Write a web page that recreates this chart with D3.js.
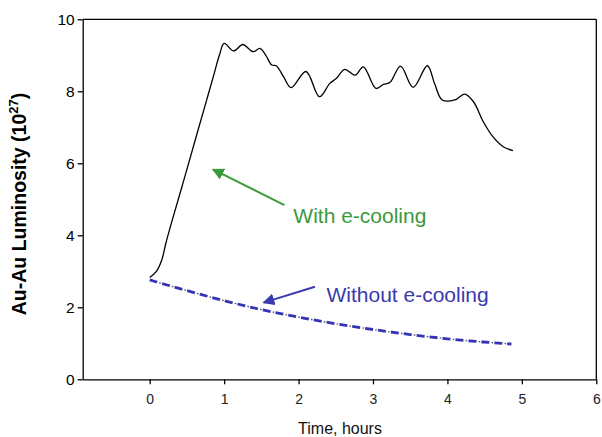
<!DOCTYPE html>
<html>
<head>
<meta charset="utf-8">
<script src="https://cdn.jsdelivr.net/npm/d3@7"></script>
<style>
  body { margin: 0; background: #fff; }
  svg { font-family: Arial, "Liberation Sans", sans-serif; }
  .axis path, .axis line { stroke: #000; stroke-width: 1.3; }
</style>
</head>
<body>
<div id="chart"></div>
<script>
const width = 602, height = 437;
const margin = { top: 19.3, right: 5.7, bottom: 57.7, left: 82.7 };
const innerWidth = width - margin.left - margin.right;
const innerHeight = height - margin.top - margin.bottom;

// with e-cooling (black line)
const withTime = [0, 0.09, 0.16, 0.22, 0.3, 0.45, 0.63, 0.76, 0.87, 0.94, 1.0, 1.13, 1.25, 1.39, 1.48, 1.56, 1.64, 1.70, 1.80, 1.90, 2.10, 2.28, 2.42, 2.51, 2.62, 2.76, 2.87, 3.04, 3.14, 3.23, 3.37, 3.54, 3.73, 3.83, 3.93, 4.10, 4.23, 4.35, 4.48, 4.61, 4.75, 4.88];
const withLum  = [2.83, 3.0, 3.3, 3.8, 4.4, 5.47, 6.78, 7.72, 8.52, 9.03, 9.33, 9.12, 9.30, 9.10, 9.19, 9.0, 8.73, 8.71, 8.4, 8.10, 8.55, 7.85, 8.22, 8.36, 8.61, 8.45, 8.68, 8.08, 8.19, 8.25, 8.70, 8.11, 8.71, 8.2, 7.76, 7.76, 7.92, 7.71, 7.16, 6.74, 6.46, 6.35];

// without e-cooling (blue dash-dot)
const withoutTime = [0, 0.5, 1.0, 1.5, 2.0, 2.5, 3.0, 3.5, 4.0, 4.5, 4.86];
const withoutLum  = [2.76, 2.46, 2.18, 1.93, 1.72, 1.54, 1.38, 1.24, 1.12, 1.03, 0.98];

const xTicks = [0, 1, 2, 3, 4, 5, 6];
const yTicks = [0, 2, 4, 6, 8, 10];

// annotations: [label, text start, arrow start, arrow tip] in data units
const notes = [
  { label: "With e-cooling", color: "#3a9a3a", text: [1.93, 4.33], from: [1.81, 4.84], to: [0.85, 5.83] },
  { label: "Without e-cooling", color: "#3a3aae", text: [2.375, 2.16], from: [2.22, 2.57], to: [1.53, 2.13] }
];

const svg = d3.select("#chart")
  .append("svg")
    .attr("width", width)
    .attr("height", height);

const inner = svg.append("g")
  .attr("transform", `translate(${margin.left}, ${margin.top})`);

const xScale = d3.scaleLinear().domain([-0.9, 6]).range([0, innerWidth]);
const yScale = d3.scaleLinear().domain([0, 10]).range([innerHeight, 0]);

// frame top and right
inner.append("line")
  .attr("x1", 0).attr("x2", innerWidth).attr("y1", 0).attr("y2", 0)
  .attr("stroke", "#000").attr("stroke-width", 1.3);
inner.append("line")
  .attr("x1", innerWidth).attr("x2", innerWidth).attr("y1", 0).attr("y2", innerHeight)
  .attr("stroke", "#000").attr("stroke-width", 1.3);

const bottomAxis = d3.axisBottom(xScale)
  .tickValues(xTicks)
  .tickFormat(d3.format("d"))
  .tickSize(5)
  .tickSizeOuter(0)
  .tickPadding(10);
inner.append("g")
  .attr("class", "axis axis-x")
  .attr("transform", `translate(0, ${innerHeight})`)
  .call(bottomAxis);
inner.selectAll(".axis-x text")
  .attr("font-size", 14)
  .attr("font-family", "Arial, 'Liberation Sans', sans-serif")
  .attr("fill", "#222");

const leftAxis = d3.axisLeft(yScale)
  .tickValues(yTicks)
  .tickFormat(d3.format("d"))
  .tickSize(5)
  .tickSizeOuter(0)
  .tickPadding(3);
inner.append("g")
  .attr("class", "axis axis-y")
  .call(leftAxis);
inner.selectAll(".axis-y text")
  .attr("font-size", 15.5)
  .attr("font-family", "Arial, 'Liberation Sans', sans-serif")
  .attr("fill", "#000");

// lines
const withData = withTime.map((t, i) => ({ t, v: withLum[i] }));
const withoutData = withoutTime.map((t, i) => ({ t, v: withoutLum[i] }));

const lineWith = d3.line()
  .x(d => xScale(d.t))
  .y(d => yScale(d.v))
  .curve(d3.curveCatmullRom.alpha(0.5));
const lineWithout = d3.line()
  .x(d => xScale(d.t))
  .y(d => yScale(d.v))
  .curve(d3.curveBasis);

inner.append("path")
  .datum(withoutData)
  .attr("d", lineWithout)
  .attr("fill", "none")
  .attr("stroke", "#555560")
  .attr("stroke-width", 1.4)
  .attr("stroke-dasharray", "1.5,11.5")
  .attr("stroke-dashoffset", -10.2);
inner.append("path")
  .datum(withoutData)
  .attr("d", lineWithout)
  .attr("fill", "none")
  .attr("stroke", "#3434b4")
  .attr("stroke-width", 2.8)
  .attr("stroke-dasharray", "8,5");

inner.append("path")
  .datum(withData)
  .attr("d", lineWith)
  .attr("fill", "none")
  .attr("stroke", "#000")
  .attr("stroke-width", 1.3);

// annotations
const defs = svg.append("defs");
notes.forEach((n, i) => {
  defs.append("marker")
    .attr("id", `arrow${i}`)
    .attr("viewBox", "0 0 10 10")
    .attr("refX", 9).attr("refY", 5)
    .attr("markerWidth", 6).attr("markerHeight", 6)
    .attr("markerUnits", "strokeWidth")
    .attr("orient", "auto")
    .append("path")
      .attr("d", "M0,0 L10,5 L0,10 z")
      .attr("fill", n.color);

  inner.append("line")
    .attr("x1", xScale(n.from[0])).attr("y1", yScale(n.from[1]))
    .attr("x2", xScale(n.to[0])).attr("y2", yScale(n.to[1]))
    .attr("stroke", n.color)
    .attr("stroke-width", 2)
    .attr("marker-end", `url(#arrow${i})`);

  inner.append("text")
    .attr("x", xScale(n.text[0]))
    .attr("y", yScale(n.text[1]))
    .attr("font-size", 21)
    .attr("fill", n.color)
    .text(n.label);
});

// axis titles
svg.append("text")
  .attr("x", 340)
  .attr("y", 434)
  .attr("text-anchor", "middle")
  .attr("font-size", 16)
  .attr("fill", "#111")
  .text("Time, hours");

const yTitle = svg.append("text")
  .attr("transform", "translate(26, 204) rotate(-90)")
  .attr("text-anchor", "middle")
  .attr("font-size", 19.5)
  .attr("font-weight", "bold")
  .attr("fill", "#000");
yTitle.append("tspan").text("Au-Au Luminosity (10");
yTitle.append("tspan").attr("font-size", 13).attr("dy", -8).text("27");
yTitle.append("tspan").attr("dy", 8).text(")");
</script>
</body>
</html>
